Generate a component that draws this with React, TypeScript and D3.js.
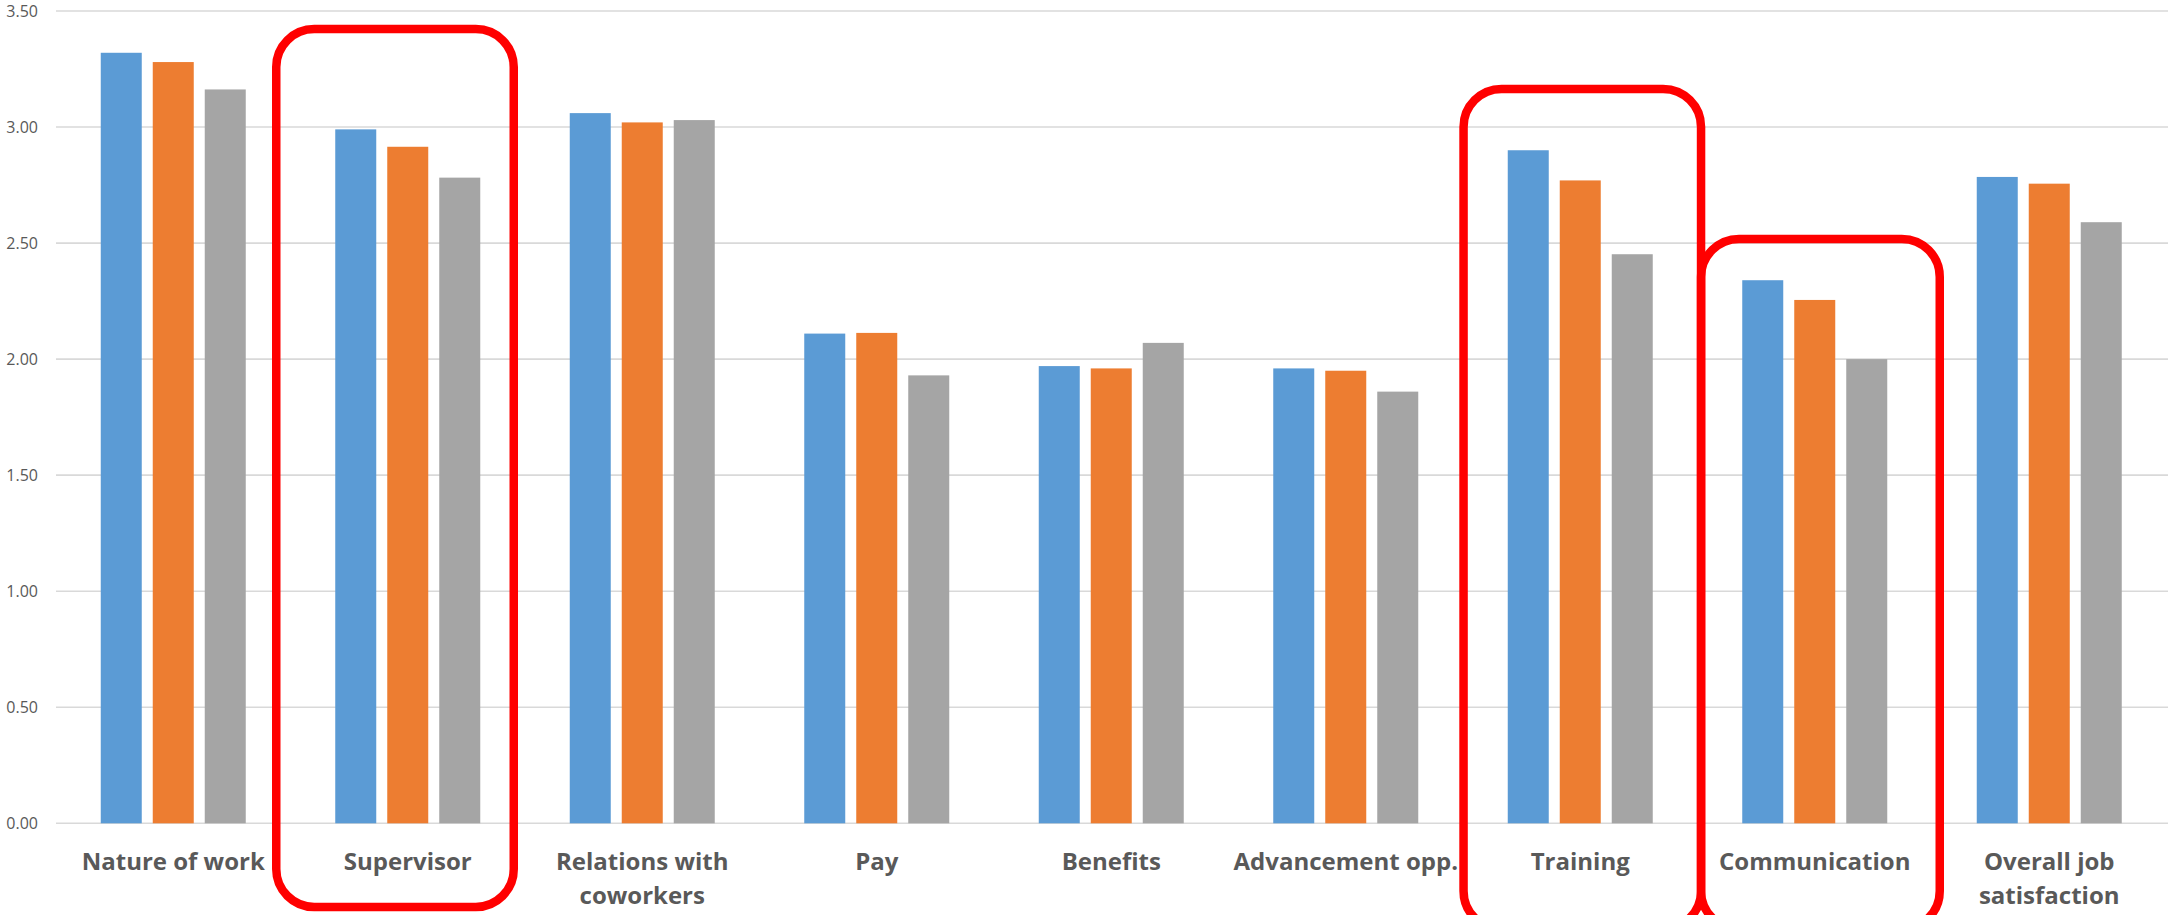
import React from "react";
import * as d3 from "d3";

const categories = [
  "Nature of work",
  "Supervisor",
  "Relations with coworkers",
  "Pay",
  "Benefits",
  "Advancement opp.",
  "Training",
  "Communication",
  "Overall job satisfaction",
];
const labelLines = [
  ["Nature of work"],
  ["Supervisor"],
  ["Relations with", "coworkers"],
  ["Pay"],
  ["Benefits"],
  ["Advancement opp."],
  ["Training"],
  ["Communication"],
  ["Overall job", "satisfaction"],
];
const seriesNames = ["Series 1", "Series 2", "Series 3"];
const series1 = [3.32, 2.99, 3.06, 2.11, 1.97, 1.96, 2.9, 2.34, 2.785];
const series2 = [3.28, 2.915, 3.02, 2.113, 1.96, 1.95, 2.77, 2.255, 2.756];
const series3 = [3.162, 2.782, 3.03, 1.93, 2.07, 1.86, 2.452, 2.0, 2.59];
const yTicks = [0, 0.5, 1.0, 1.5, 2.0, 2.5, 3.0, 3.5];
const colors = ["#5B9BD5", "#ED7D31", "#A5A5A5"];

// highlight annotations (category, top value)
const highlights = [
  { category: "Supervisor", top: 3.422, dl: -131.5, dr: 106, bottom: 907 },
  { category: "Training", top: 3.164, dl: -116.7, dr: 120.8, bottom: 929 },
  { category: "Communication", top: 2.518, dl: -113.7, dr: 125, bottom: 929 },
];

const W = 2168;
const H = 915;

export default function App() {
  const x0 = d3
    .scaleBand<string>()
    .domain(categories)
    .range([56, 56 + 9 * 234.5])
    .paddingInner(0)
    .paddingOuter(0);
  const barStep = 52;
  const barW = 41;
  const p = (barStep - barW) / barStep;
  const x1 = d3
    .scaleBand<string>()
    .domain(seriesNames)
    .range([-1.5 * barStep, 1.5 * barStep])
    .paddingInner(p)
    .paddingOuter(p / 2);
  const y = d3.scaleLinear().domain([0, 3.5]).range([823.3, 11]);
  const values = [series1, series2, series3];
  const font = "'Open Sans', sans-serif";

  return (
    <svg
      width={W}
      height={H}
      style={{ position: "absolute", left: 0, top: 0, background: "#fff" }}
    >
      {yTicks.map((t) => (
        <g key={t}>
          <line
            x1={56}
            x2={W}
            y1={y(t)}
            y2={y(t)}
            stroke="#d9d9d9"
            strokeWidth={1.6}
          />
          <text
            x={38}
            y={y(t)}
            dy="0.36em"
            textAnchor="end"
            fontFamily={font}
            fontSize={16}
            fill="#595959"
          >
            {t.toFixed(2)}
          </text>
        </g>
      ))}
      {categories.map((c, i) => {
        const cx = (x0(c) as number) + x0.bandwidth() / 2;
        return (
          <g key={c}>
            {values.map((vals, s) => (
              <rect
                key={s}
                x={cx + (x1(seriesNames[s]) as number)}
                y={y(vals[i])}
                width={x1.bandwidth()}
                height={y(0) - y(vals[i])}
                fill={colors[s]}
              />
            ))}
            {labelLines[i].map((ln, k) => (
              <text
                key={k}
                x={cx}
                y={870 + k * 34}
                textAnchor="middle"
                fontFamily={font}
                fontWeight="bold"
                fontSize={24}
                fill="#595959"
              >
                {ln}
              </text>
            ))}
          </g>
        );
      })}
      {highlights.map((h) => {
        const cx = (x0(h.category) as number) + x0.bandwidth() / 2;
        const left = cx + h.dl;
        const right = cx + h.dr;
        const top = y(h.top);
        return (
          <rect
            key={h.category}
            x={left}
            y={top}
            width={right - left}
            height={h.bottom - top}
            rx={38}
            ry={38}
            fill="none"
            stroke="#FF0000"
            strokeWidth={8.5}
          />
        );
      })}
    </svg>
  );
}
